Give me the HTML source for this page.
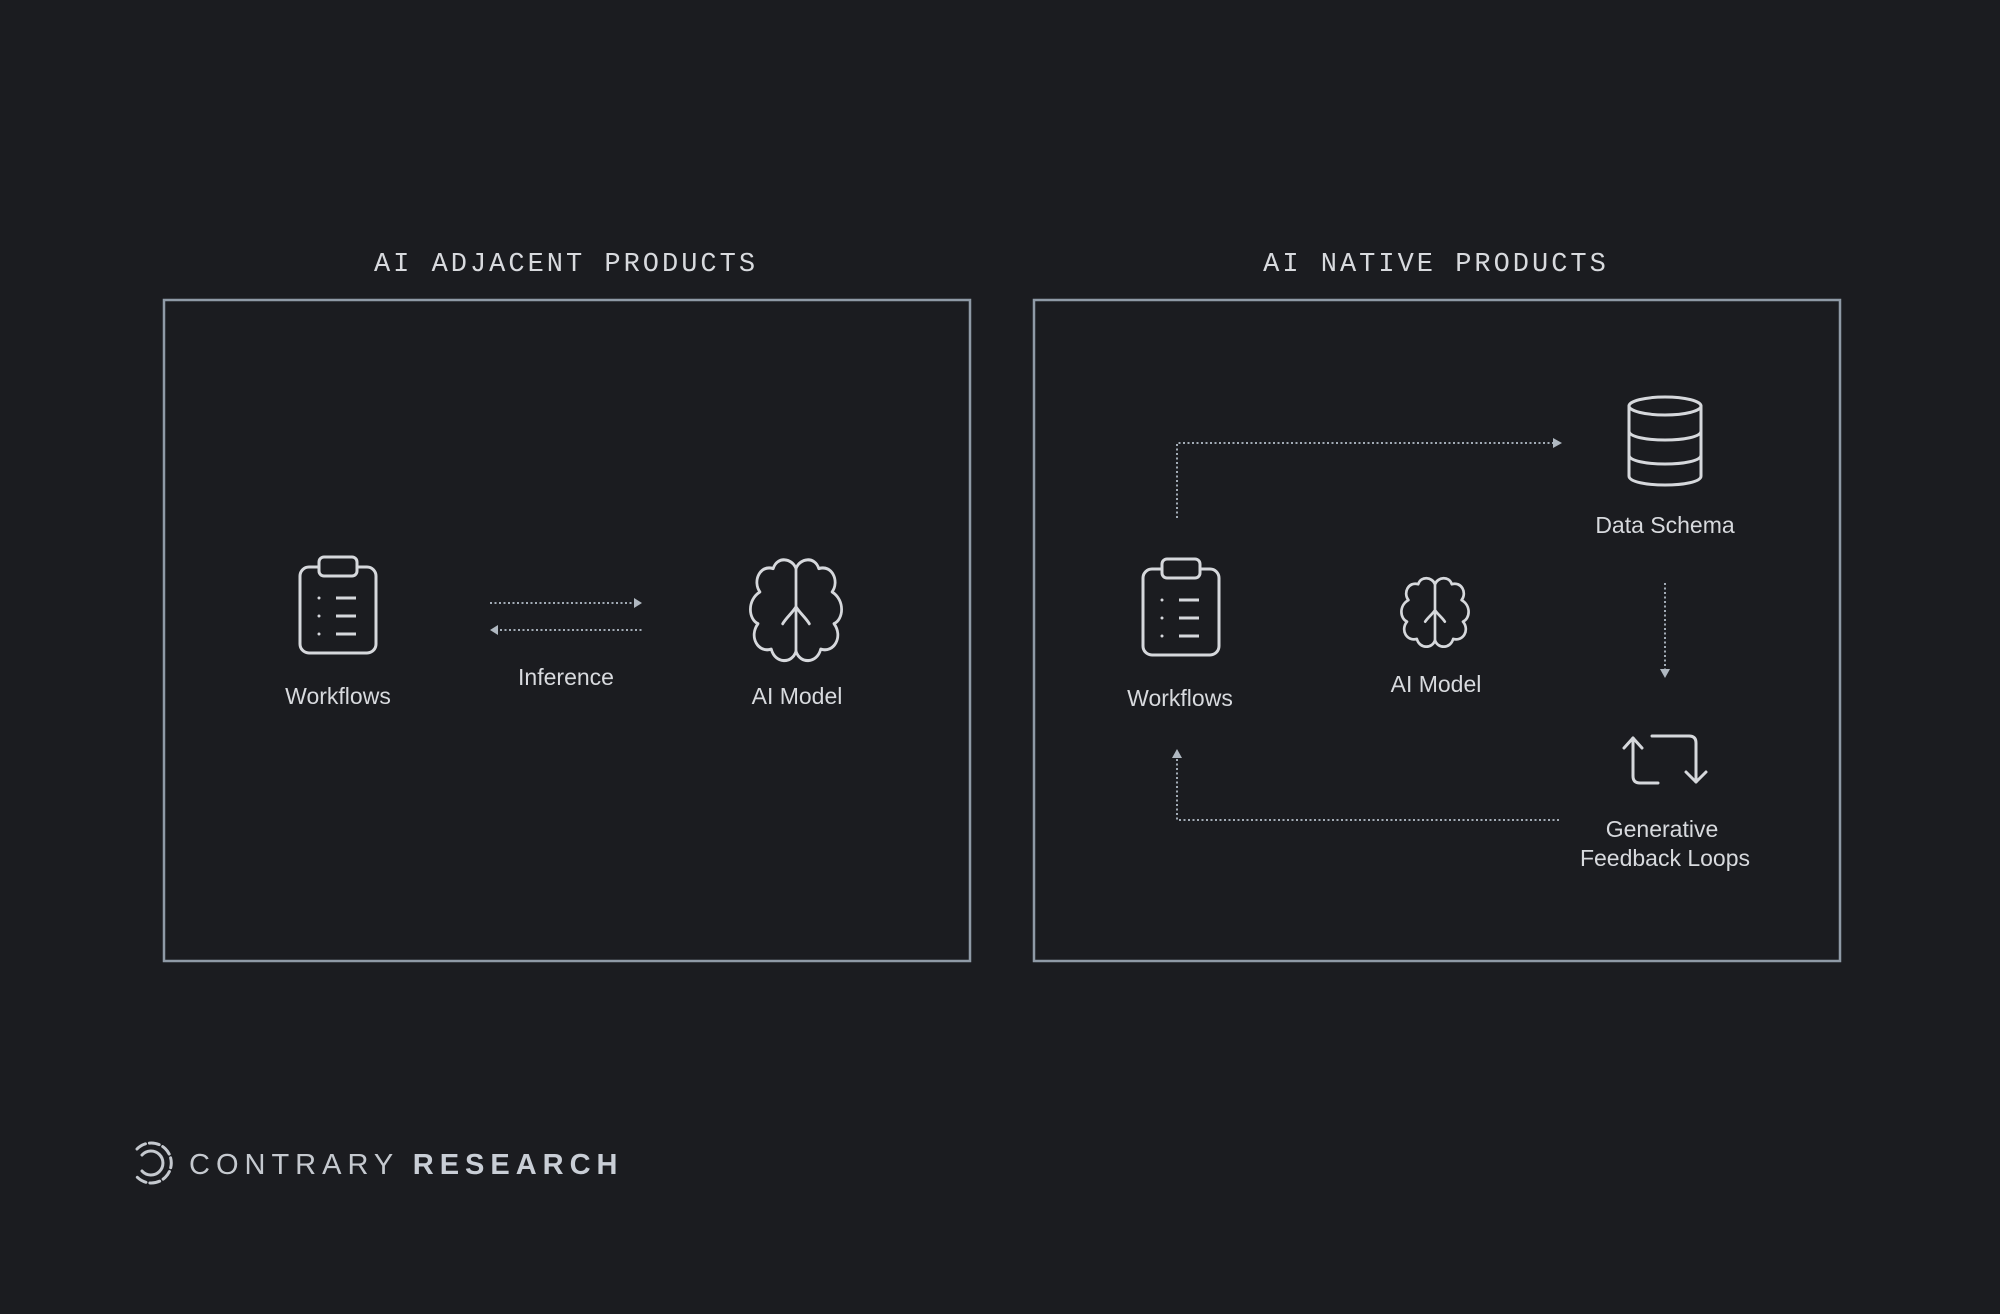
<!DOCTYPE html>
<html><head><meta charset="utf-8"><style>
html,body{margin:0;padding:0;background:#1b1c20;}
svg{display:block}
</style></head><body>
<svg width="2000" height="1314" viewBox="0 0 2000 1314" xmlns="http://www.w3.org/2000/svg">
<defs>
<g id="clip">
<rect x="2" y="11" width="76" height="86" rx="9" fill="none" stroke="#d6d8dc" stroke-width="3"/>
<rect x="21" y="1" width="38" height="19" rx="5" fill="#1b1c20" stroke="#d6d8dc" stroke-width="3"/>
<g fill="#d6d8dc"><circle cx="21" cy="42" r="1.5"/><circle cx="21" cy="60" r="1.5"/><circle cx="21" cy="78" r="1.5"/></g>
<g stroke="#d6d8dc" stroke-width="3"><line x1="38" y1="42" x2="58" y2="42"/><line x1="38" y1="60" x2="58" y2="60"/><line x1="38" y1="78" x2="58" y2="78"/></g>
</g>
<g id="brain" fill="none" stroke="#d6d8dc" stroke-linejoin="round" stroke-linecap="round">
<path d="M0,-40 C-4,-50 -20,-52 -24,-40 C-38,-44 -46,-28 -38,-18 C-52,-10 -50,8 -40,12 C-50,24 -40,40 -26,36 C-22,50 -4,50 0,38 C4,50 22,50 26,36 C40,40 50,24 40,12 C50,8 52,-10 38,-18 C46,-28 38,-44 24,-40 C20,-52 4,-50 0,-40 Z"/>
<path d="M0,-40 V38 M0,-4 C-4,2 -10,6 -14,12 M0,-4 C4,2 10,6 14,12"/>
</g>
</defs>

<g font-family="'Liberation Mono', monospace" font-size="27" fill="#d8dade" text-anchor="middle" letter-spacing="3">
<text x="566" y="271">AI ADJACENT PRODUCTS</text>
<text x="1436" y="271">AI NATIVE PRODUCTS</text>
</g>

<rect x="164" y="300" width="806" height="661" fill="none" stroke="#8f9aa6" stroke-width="2.5"/>
<rect x="1034" y="300" width="806" height="661" fill="none" stroke="#8f9aa6" stroke-width="2.5"/>

<use href="#clip" x="298" y="556"/>
<use href="#brain" transform="translate(796,611) scale(0.95,1.06)" stroke-width="2.9"/>
<g stroke="#a3acb6" stroke-width="2" stroke-dasharray="2 2.5" fill="none">
<line x1="490" y1="603" x2="634" y2="603"/>
<line x1="500" y1="630" x2="642" y2="630"/>
</g>
<g fill="#b0b8c1">
<path d="M634,598 L642,603 L634,608 Z"/>
<path d="M498,625 L490,630 L498,635 Z"/>
</g>

<g font-family="'Liberation Sans', sans-serif" font-size="23" fill="#d8dade" text-anchor="middle">
<text x="338" y="704">Workflows</text>
<text x="566" y="685">Inference</text>
<text x="797" y="704">AI Model</text>
<text x="1180" y="706">Workflows</text>
<text x="1436" y="692">AI Model</text>
<text x="1665" y="533">Data Schema</text>
<text x="1662" y="837">Generative</text>
<text x="1665" y="866">Feedback Loops</text>
</g>

<use href="#clip" x="1141" y="558"/>
<use href="#brain" transform="translate(1435,613) scale(0.7,0.72)" stroke-width="3.8"/>

<g fill="none" stroke="#d6d8dc" stroke-width="3">
<ellipse cx="1665" cy="406" rx="36" ry="9"/>
<path d="M1629,406 V476 C1629,488 1701,488 1701,476 V406"/>
<path d="M1629,431 C1629,443 1701,443 1701,431"/>
<path d="M1629,455 C1629,467 1701,467 1701,455"/>
</g>

<g fill="none" stroke="#d6d8dc" stroke-width="3" stroke-linecap="round" stroke-linejoin="round">
<path d="M1658,783 H1640 Q1633,783 1633,776 V738"/>
<path d="M1624,748 L1633,738 L1642,748"/>
<path d="M1652,736 H1689 Q1696,736 1696,743 V782"/>
<path d="M1686,772 L1696,782 L1706,772"/>
</g>

<g stroke="#a3acb6" stroke-width="2" stroke-dasharray="2 2.5" fill="none">
<path d="M1177,518 V443 H1553"/>
<line x1="1665" y1="583" x2="1665" y2="670"/>
<path d="M1559,820 H1177 V757"/>
</g>
<g fill="#b0b8c1">
<path d="M1553,438 L1562,443 L1553,448 Z"/>
<path d="M1660,669 L1665,678 L1670,669 Z"/>
<path d="M1172,758 L1177,749 L1182,758 Z"/>
</g>

<g fill="none" stroke="#c5c9cf" stroke-width="3" stroke-linecap="round">
<path d="M137,1149 A20,20 0 1 1 137,1177" stroke-dasharray="10 4"/>
<path d="M142,1155 A12,12 0 1 1 142,1171"/>
</g>
<text x="189" y="1174" font-family="'Liberation Sans', sans-serif" font-size="29" fill="#c5c9cf" letter-spacing="6">CONTRARY <tspan font-weight="bold" fill="#c9ced6">RESEARCH</tspan></text>
</svg>
</body></html>
